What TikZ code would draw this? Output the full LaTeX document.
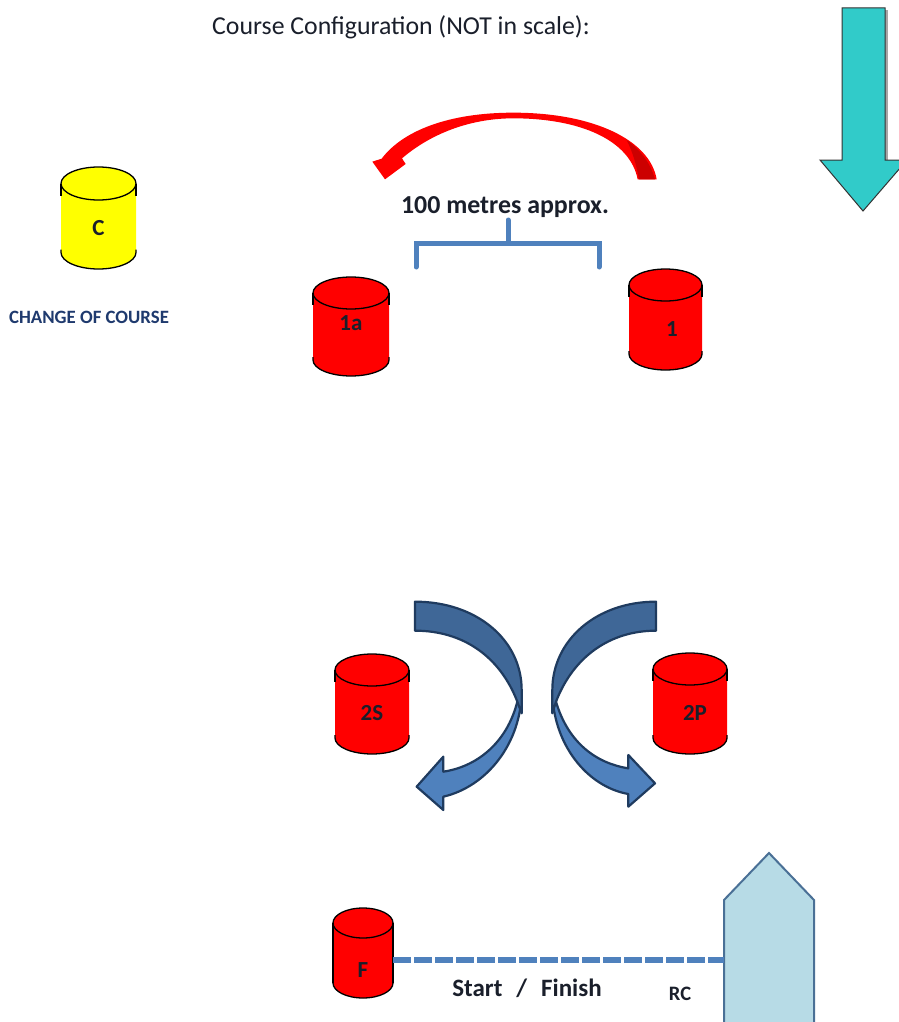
\documentclass[tikz,border=0pt]{standalone}
\usepackage{fontspec}
\setmainfont{Carlito}
\definecolor{cbar}{HTML}{4F81BD}
\definecolor{cdark}{HTML}{3F6797}
\definecolor{cline}{HTML}{1F3B5F}
\definecolor{cteal}{HTML}{31CBC9}
\definecolor{cboat}{HTML}{B7DBE6}
\definecolor{cboatl}{HTML}{4A7096}
\definecolor{ctext}{HTML}{1A1F2B}
\definecolor{cnavy}{HTML}{1F3A6E}
\definecolor{cred}{HTML}{FF0000}
\definecolor{credd}{HTML}{CC0000}
\definecolor{cyel}{HTML}{FFFF00}
\tikzset{
  lab/.style={font=\bfseries\fontsize{23}{25}\selectfont,text=ctext,inner sep=0pt},
  body/.style={minimum width=#1,inner sep=0pt,outer sep=0pt},
  barline/.style={draw=cbar,line width=5pt},
  curved/.style={draw=cline,line width=2.2pt,line join=round}
}
% centre x, top y, bottom y, half width, ellipse ry, fill, name
\newcommand{\drum}[7]{%
  \fill[#6] (#1-#4,#2+#5) -- (#1+#4,#2+#5) -- (#1+#4,#3-#5)
     .. controls (#1+#4,#3-#5+.55*#5) and (#1+.55*#4,#3) .. (#1,#3)
     .. controls (#1-.55*#4,#3) and (#1-#4,#3-#5+.55*#5) .. (#1-#4,#3-#5) -- cycle;
  \draw[fill=#6,draw=black,line width=1.3pt] (#1,#2+#5) ellipse[x radius=#4,y radius=#5];
  \draw[black,line width=1.3pt] (#1-#4,#2+#5) -- (#1-#4,#2+#5+12);
  \draw[black,line width=1.3pt] (#1+#4,#2+#5) -- (#1+#4,#2+#5+12);
  \draw[black,line width=1.3pt] (#1+#4,#3-#5-3) -- (#1+#4,#3-#5)
     .. controls (#1+#4,#3-#5+.55*#5) and (#1+.55*#4,#3) .. (#1,#3)
     .. controls (#1-.55*#4,#3) and (#1-#4,#3-#5+.55*#5) .. (#1-#4,#3-#5) -- (#1-#4,#3-#5-3);
  \node[body=2*#4,minimum height=#3-#2] (#7) at (#1,{(#2+#3)/2}) {};
}
\begin{document}
\begin{tikzpicture}[x=1pt,y=-1pt]
\useasboundingbox (0,0) rectangle (898,1022);
\fill[white] (0,0) rectangle (898,1022);

\node[font=\fontsize{25.8}{28}\selectfont,text=ctext,inner sep=0pt] (title) at (401,27) {Course Configuration (NOT in scale):};

% wind arrow
\fill[gray!70] (885,10) rectangle (888,160);
\draw[fill=cteal,draw=black!80,line width=1pt,line join=miter]
  (842,8) -- (885,8) -- (885,160) -- (907,160) -- (863,211) -- (820,160) -- (842,160) -- cycle;

% red arrow
\begin{scope}[shift={(340,90)},scale=1/3]
\fill[cred] (950,268) .. controls (930,150) and (760,68) .. (520,68)
  .. controls (330,68) and (190,120) .. (125,206) -- (97,215) -- (135,268) -- (197,222) -- (186,205)
  .. controls (280,125) and (400,85) .. (520,85)
  .. controls (720,85) and (870,150) .. (893,268) -- cycle;
\fill[credd] (945,268) .. controls (930,215) and (900,180) .. (860,150)
  .. controls (880,190) and (890,230) .. (897,268) -- cycle;
\end{scope}

\node[font=\bfseries\fontsize{25.9}{28}\selectfont,text=ctext,inner sep=0pt] (dist) at (505,207) {100 metres approx.};
\draw[barline,line cap=round] (416,267) -- (416,243) -- (599,243) -- (599,267);
\draw[barline,line cap=round] (508,243) -- (508,220);

% marks
\drum{98.5}{167}{269}{37.5}{16.5}{cyel}{markC}
\node[lab] (labC) at (98.5,228) {C};
\node[font=\bfseries\fontsize{18.8}{20}\selectfont,text=cnavy,inner sep=0pt] (chg) at (89,317) {CHANGE OF COURSE};

\drum{351}{277}{376}{38}{16}{cred}{markA}
\node[lab] (labA) at (351,323) {1a};
\drum{665.5}{269}{370}{36.5}{16}{cred}{markB}
\node[lab] (labB) at (672,329) {1};

\drum{372}{654}{754}{37}{16}{cred}{markS}
\node[lab] (labS) at (372,713) {2S};
\drum{690}{653}{754}{37}{16}{cred}{markP}
\node[lab] (labP) at (695,713) {2P};

% blue arrows
\begin{scope}[shift={(320,590)},scale=1/3]
\draw[curved,fill=cbar] (605,300) .. controls (605,460) and (500,590) .. (370,620)
  -- (370,660) -- (290,590) -- (370,500) -- (370,545)
  .. controls (470,530) and (560,460) .. (592,335) -- cycle;
\draw[curved,fill=cdark] (285,35) .. controls (470,35) and (605,150) .. (605,300)
  -- (605,370) -- (592,335) .. controls (540,200) and (430,122) .. (285,122) -- cycle;
\draw[curved,fill=cbar] (697,300) .. controls (697,460) and (800,590) .. (925,612)
  -- (925,650) -- (1005,580) -- (925,495) -- (925,535)
  .. controls (830,520) and (745,460) .. (708,335) -- cycle;
\draw[curved,fill=cdark] (1008,35) .. controls (830,35) and (697,150) .. (697,300)
  -- (697,370) -- (708,335) .. controls (760,200) and (870,122) .. (1008,122) -- cycle;
\end{scope}

% finish
\drum{363}{908}{998}{30}{15}{cred}{markF}
\draw[black,line width=1.4pt] (333,923) -- (333,983);
\draw[black,line width=1.4pt] (393,923) -- (393,983);
\node[lab] (labF) at (363,970) {F};

\draw[fill=cboat,draw=cboatl,line width=2pt,line join=miter]
  (724,900) -- (769,853) -- (814,900) -- (814,1030) -- (724,1030) -- cycle;
\node[minimum width=90pt,minimum height=169pt,inner sep=0pt,outer sep=0pt] (boat) at (769,937.5) {};
\draw[draw=cbar,line width=6pt,dash pattern=on 18pt off 3pt] ([yshift=-7pt]markF.east) -- ([yshift=-22.5pt]boat.west);

\node[font=\bfseries\fontsize{25}{27}\selectfont,text=ctext,inner sep=0pt] (sf) at (527,988) {Start\,\, /\,\, Finish};
\node[font=\bfseries\fontsize{20.5}{22}\selectfont,text=ctext,inner sep=0pt] (rc) at (680,994) {RC};
\end{tikzpicture}
\end{document}
